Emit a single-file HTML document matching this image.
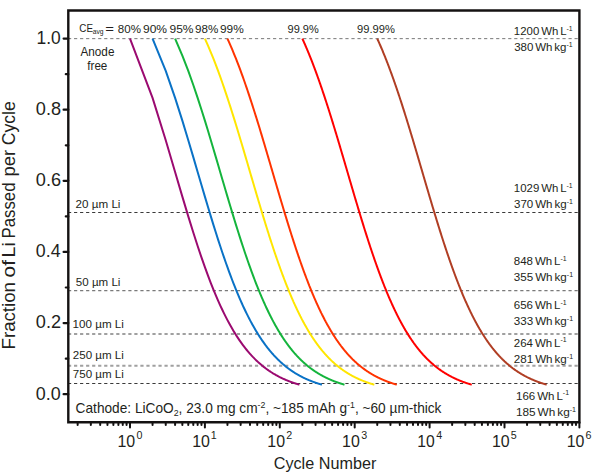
<!DOCTYPE html>
<html><head><meta charset="utf-8"><style>
html,body{margin:0;padding:0;background:#fff;}
body{width:600px;height:476px;overflow:hidden;}
svg{display:block;font-family:"Liberation Sans", sans-serif;}
text{fill:#231f20;}
</style></head><body>
<svg width="600" height="476" viewBox="0 0 600 476">
<rect x="0" y="0" width="600" height="476" fill="#fff"/>
<line x1="68" y1="38.65" x2="578" y2="38.65" stroke="#777" stroke-width="1" stroke-dasharray="3.2 2.83"/>
<line x1="68" y1="212.5" x2="578" y2="212.5" stroke="#3a3a3a" stroke-width="1" stroke-dasharray="3.2 2.83"/>
<line x1="68" y1="290.6" x2="578" y2="290.6" stroke="#7a7a7a" stroke-width="1.3" stroke-dasharray="3.2 2.83"/>
<line x1="68" y1="334.0" x2="578" y2="334.0" stroke="#a0a0a0" stroke-width="2" stroke-dasharray="3.2 2.83"/>
<line x1="68" y1="365.7" x2="578" y2="365.7" stroke="#a0a0a0" stroke-width="2" stroke-dasharray="3.2 2.83"/>
<line x1="68" y1="383.5" x2="578" y2="383.5" stroke="#3a3a3a" stroke-width="1" stroke-dasharray="3.2 2.83"/>
<path d="M130.00,38.60 L152.55,97.87 L165.74,140.20 L175.09,171.95 L182.35,196.64 L188.28,216.40 L193.30,232.56 L197.64,246.03 L201.47,257.43 L204.90,267.20 L208.00,275.67 L210.83,283.07 L213.43,289.61 L215.84,295.42 L218.09,300.62 L220.19,305.30 L222.16,309.53 L224.02,313.38 L225.78,316.90 L227.45,320.12 L229.03,323.08 L230.55,325.82 L231.99,328.35 L233.38,330.70 L234.71,332.89 L235.98,334.93 L237.21,336.85 L238.39,338.64 L239.53,340.32 L240.64,341.91 L241.70,343.40 L242.74,344.81 L243.74,346.15 L244.71,347.41 L245.65,348.61 L246.57,349.75 L247.46,350.83 L248.33,351.87 L249.17,352.85 L249.99,353.79 L250.80,354.69 L251.58,355.55 L252.35,356.37 L253.09,357.16 L253.83,357.91 L254.54,358.64 L255.24,359.34 L255.92,360.01 L256.60,360.65 L257.25,361.27 L257.90,361.87 L258.53,362.45 L259.15,363.01 L259.76,363.54 L260.35,364.06 L260.94,364.57 L261.52,365.05 L262.08,365.52 L262.64,365.98 L263.18,366.42 L263.72,366.85 L264.25,367.26 L264.77,367.66 L265.28,368.05 L265.79,368.43 L266.28,368.80 L266.77,369.16 L267.25,369.51 L267.73,369.84 L268.20,370.17 L268.66,370.49 L269.11,370.81 L269.56,371.11 L270.01,371.41 L270.44,371.69 L270.87,371.97 L271.30,372.25 L271.72,372.52 L272.13,372.78 L272.54,373.03 L272.95,373.28 L273.34,373.53 L273.74,373.76 L274.13,374.00 L274.51,374.22 L274.89,374.44 L275.27,374.66 L275.64,374.87 L276.01,375.08 L276.37,375.29 L276.73,375.48 L277.09,375.68 L277.44,375.87 L277.79,376.06 L278.13,376.24 L278.47,376.42 L278.81,376.60 L279.14,376.77 L279.47,376.94 L279.80,377.10 L280.12,377.27 L280.44,377.43 L280.76,377.58 L281.08,377.74 L281.39,377.89 L281.70,378.04 L282.00,378.18 L282.30,378.32 L282.60,378.47 L282.90,378.60 L283.19,378.74 L283.49,378.87 L283.78,379.00 L284.06,379.13 L284.35,379.26 L284.63,379.38 L284.91,379.51 L285.18,379.63 L285.46,379.74 L285.73,379.86 L286.00,379.98 L286.27,380.09 L286.53,380.20 L286.80,380.31 L287.06,380.42 L287.32,380.52 L287.57,380.63 L287.83,380.73 L288.08,380.83 L288.33,380.93 L288.58,381.03 L288.83,381.13 L289.08,381.22 L289.32,381.32 L289.56,381.41 L289.80,381.50 L290.04,381.59 L290.28,381.68 L290.51,381.77 L290.74,381.85 L290.98,381.94 L291.21,382.02 L291.43,382.10 L291.66,382.19 L291.89,382.27 L292.11,382.35 L292.33,382.43 L292.55,382.50 L292.77,382.58 L292.99,382.65 L293.21,382.73 L293.42,382.80 L293.63,382.88 L293.85,382.95 L294.06,383.02 L294.27,383.09 L294.47,383.16 L294.68,383.22 L294.88,383.29 L295.09,383.36 L295.29,383.42 L295.49,383.49 L295.69,383.55 L295.89,383.62 L296.09,383.68 L296.29,383.74 L296.48,383.80 L296.68,383.86 L296.87,383.92 L297.06,383.98 L297.25,384.04 L297.44,384.10 L297.63,384.15 L297.82,384.21 L298.00,384.27 L298.19,384.32 L298.37,384.38 L298.56,384.43 L298.74,384.48 L298.92,384.54 L299.10,384.59 L299.28,384.64 L299.38,384.67" fill="none" stroke="#9b0a70" stroke-width="2" stroke-linejoin="round"/>
<path d="M152.55,38.60 L165.74,70.93 L175.09,97.87 L182.35,120.66 L188.28,140.20 L193.30,157.13 L197.64,171.95 L201.47,185.02 L204.90,196.64 L208.00,207.04 L210.83,216.40 L213.43,224.87 L215.84,232.56 L218.09,239.59 L220.19,246.03 L222.16,251.96 L224.02,257.43 L225.78,262.50 L227.45,267.20 L229.03,271.58 L230.55,275.67 L231.99,279.49 L233.38,283.07 L234.71,286.44 L235.98,289.61 L237.21,292.60 L238.39,295.42 L239.53,298.09 L240.64,300.62 L241.70,303.02 L242.74,305.30 L243.74,307.47 L244.71,309.53 L245.65,311.50 L246.57,313.38 L247.46,315.18 L248.33,316.90 L249.17,318.54 L249.99,320.12 L250.80,321.63 L251.58,323.08 L252.35,324.47 L253.09,325.82 L253.83,327.11 L254.54,328.35 L255.24,329.55 L255.92,330.70 L256.60,331.81 L257.25,332.89 L257.90,333.93 L258.53,334.93 L259.15,335.90 L259.76,336.85 L260.35,337.76 L260.94,338.64 L261.52,339.49 L262.08,340.32 L262.64,341.13 L263.18,341.91 L263.72,342.66 L264.25,343.40 L264.77,344.12 L265.28,344.81 L265.79,345.49 L266.28,346.15 L266.77,346.79 L267.25,347.41 L267.73,348.02 L268.20,348.61 L268.66,349.19 L269.11,349.75 L269.56,350.30 L270.01,350.83 L270.44,351.36 L270.87,351.87 L271.30,352.36 L271.72,352.85 L272.13,353.33 L272.54,353.79 L272.95,354.24 L273.34,354.69 L273.74,355.12 L274.13,355.55 L274.51,355.96 L274.89,356.37 L275.27,356.77 L275.64,357.16 L276.01,357.54 L276.37,357.91 L276.73,358.28 L277.09,358.64 L277.44,358.99 L277.79,359.34 L278.13,359.68 L278.47,360.01 L278.81,360.33 L279.14,360.65 L279.47,360.97 L279.80,361.27 L280.12,361.58 L280.44,361.87 L280.76,362.16 L281.08,362.45 L281.39,362.73 L281.70,363.01 L282.00,363.28 L282.30,363.54 L282.60,363.81 L282.90,364.06 L283.19,364.32 L283.49,364.57 L283.78,364.81 L284.06,365.05 L284.35,365.29 L284.63,365.52 L284.91,365.75 L285.18,365.98 L285.46,366.20 L285.73,366.42 L286.00,366.63 L286.27,366.85 L286.53,367.05 L286.80,367.26 L287.06,367.46 L287.32,367.66 L287.57,367.86 L287.83,368.05 L288.08,368.24 L288.33,368.43 L288.58,368.62 L288.83,368.80 L289.08,368.98 L289.32,369.16 L289.56,369.33 L289.80,369.51 L290.04,369.68 L290.28,369.84 L290.51,370.01 L290.74,370.17 L290.98,370.33 L291.21,370.49 L291.43,370.65 L291.66,370.81 L291.89,370.96 L292.11,371.11 L292.33,371.26 L292.55,371.41 L292.77,371.55 L292.99,371.69 L293.21,371.84 L293.42,371.97 L293.63,372.11 L293.85,372.25 L294.06,372.38 L294.27,372.52 L294.47,372.65 L294.68,372.78 L294.88,372.91 L295.09,373.03 L295.29,373.16 L295.49,373.28 L295.69,373.40 L295.89,373.53 L296.09,373.65 L296.29,373.76 L296.48,373.88 L296.68,374.00 L296.87,374.11 L297.06,374.22 L297.25,374.33 L297.44,374.44 L297.63,374.55 L297.82,374.66 L298.00,374.77 L298.19,374.87 L298.37,374.98 L298.56,375.08 L298.74,375.18 L298.92,375.29 L299.10,375.39 L299.28,375.48 L299.46,375.58 L299.63,375.68 L299.81,375.78 L299.99,375.87 L300.16,375.96 L300.33,376.06 L300.51,376.15 L300.68,376.24 L300.85,376.33 L301.02,376.42 L301.19,376.51 L301.36,376.60 L301.52,376.68 L301.69,376.77 L301.86,376.85 L302.02,376.94 L302.18,377.02 L302.35,377.10 L302.67,377.27 L302.99,377.43 L303.31,377.58 L303.62,377.74 L303.93,377.89 L304.24,378.04 L304.55,378.18 L304.85,378.32 L305.15,378.47 L305.45,378.60 L305.74,378.74 L306.03,378.87 L306.32,379.00 L306.61,379.13 L306.89,379.26 L307.18,379.38 L307.45,379.51 L307.73,379.63 L308.01,379.74 L308.28,379.86 L308.55,379.98 L308.82,380.09 L309.08,380.20 L309.34,380.31 L309.61,380.42 L309.86,380.52 L310.12,380.63 L310.38,380.73 L310.63,380.83 L310.88,380.93 L311.13,381.03 L311.38,381.13 L311.62,381.22 L311.87,381.32 L312.11,381.41 L312.35,381.50 L312.59,381.59 L312.82,381.68 L313.06,381.77 L313.29,381.85 L313.52,381.94 L313.75,382.02 L313.98,382.10 L314.21,382.19 L314.43,382.27 L314.66,382.35 L314.88,382.43 L315.10,382.50 L315.32,382.58 L315.54,382.65 L315.86,382.77 L316.18,382.88 L316.50,382.98 L316.81,383.09 L317.12,383.19 L317.43,383.29 L317.74,383.39 L318.04,383.49 L318.34,383.59 L318.64,383.68 L318.93,383.77 L319.22,383.86 L319.51,383.95 L319.80,384.04 L320.08,384.13 L320.36,384.21 L320.64,384.29 L320.92,384.38 L321.19,384.46 L321.47,384.54 L321.74,384.62 L321.93,384.67" fill="none" stroke="#0a72c6" stroke-width="2" stroke-linejoin="round"/>
<path d="M175.09,38.60 L182.35,55.53 L188.28,70.93 L193.30,84.98 L197.64,97.87 L201.47,109.72 L204.90,120.66 L208.00,130.79 L210.83,140.20 L213.43,148.96 L215.84,157.13 L218.09,164.78 L220.19,171.95 L222.16,178.68 L224.02,185.02 L225.78,191.00 L227.45,196.64 L229.03,201.98 L230.55,207.04 L231.99,211.84 L233.38,216.40 L234.71,220.74 L235.98,224.87 L237.21,228.80 L238.39,232.56 L239.53,236.16 L240.64,239.59 L241.70,242.88 L242.74,246.03 L243.74,249.06 L244.71,251.96 L245.65,254.75 L246.57,257.43 L247.46,260.01 L248.33,262.50 L249.17,264.89 L249.99,267.20 L250.80,269.43 L251.58,271.58 L252.35,273.66 L253.09,275.67 L253.83,277.61 L254.54,279.49 L255.24,281.31 L255.92,283.08 L256.60,284.78 L257.25,286.44 L257.90,288.05 L258.53,289.61 L259.15,291.13 L259.76,292.60 L260.35,294.03 L260.94,295.42 L261.52,296.78 L262.08,298.09 L262.64,299.37 L263.18,300.62 L263.72,301.84 L264.25,303.02 L264.77,304.17 L265.28,305.30 L265.79,306.40 L266.28,307.47 L266.77,308.51 L267.25,309.53 L267.73,310.53 L268.20,311.50 L268.66,312.45 L269.11,313.38 L269.56,314.29 L270.01,315.18 L270.44,316.05 L270.87,316.90 L271.30,317.73 L271.72,318.54 L272.13,319.34 L272.54,320.12 L272.95,320.88 L273.34,321.63 L273.74,322.36 L274.13,323.08 L274.51,323.78 L274.89,324.47 L275.27,325.15 L275.64,325.82 L276.01,326.47 L276.37,327.11 L276.73,327.73 L277.09,328.35 L277.44,328.95 L277.79,329.55 L278.13,330.13 L278.47,330.70 L278.81,331.26 L279.14,331.81 L279.47,332.36 L279.80,332.89 L280.12,333.41 L280.44,333.93 L280.76,334.44 L281.08,334.93 L281.39,335.42 L281.70,335.90 L282.00,336.38 L282.30,336.85 L282.60,337.30 L282.90,337.76 L283.19,338.20 L283.49,338.64 L283.78,339.07 L284.06,339.49 L284.35,339.91 L284.63,340.32 L284.91,340.73 L285.18,341.13 L285.46,341.52 L285.73,341.91 L286.00,342.29 L286.27,342.66 L286.53,343.03 L286.80,343.40 L287.06,343.76 L287.32,344.12 L287.57,344.47 L287.83,344.81 L288.08,345.15 L288.33,345.49 L288.58,345.82 L288.83,346.15 L289.08,346.47 L289.32,346.79 L289.56,347.10 L289.80,347.41 L290.04,347.72 L290.28,348.02 L290.51,348.32 L290.74,348.61 L290.98,348.90 L291.21,349.19 L291.43,349.47 L291.66,349.75 L291.89,350.03 L292.11,350.30 L292.33,350.57 L292.55,350.83 L292.77,351.10 L292.99,351.36 L293.21,351.61 L293.42,351.87 L293.63,352.12 L293.85,352.36 L294.06,352.61 L294.27,352.85 L294.47,353.09 L294.68,353.33 L294.88,353.56 L295.09,353.79 L295.29,354.02 L295.49,354.24 L295.69,354.47 L295.89,354.69 L296.09,354.91 L296.29,355.12 L296.48,355.34 L296.68,355.55 L296.87,355.76 L297.06,355.96 L297.25,356.17 L297.44,356.37 L297.63,356.57 L297.82,356.77 L298.00,356.96 L298.19,357.16 L298.37,357.35 L298.56,357.54 L298.74,357.73 L298.92,357.91 L299.10,358.10 L299.28,358.28 L299.46,358.46 L299.63,358.64 L299.81,358.82 L299.99,358.99 L300.16,359.17 L300.33,359.34 L300.51,359.51 L300.68,359.68 L300.85,359.84 L301.02,360.01 L301.19,360.17 L301.36,360.33 L301.52,360.49 L301.69,360.65 L301.86,360.81 L302.02,360.97 L302.18,361.12 L302.35,361.27 L302.67,361.58 L302.99,361.87 L303.31,362.16 L303.62,362.45 L303.93,362.73 L304.24,363.01 L304.55,363.28 L304.85,363.54 L305.15,363.81 L305.45,364.06 L305.74,364.32 L306.03,364.57 L306.32,364.81 L306.61,365.05 L306.89,365.29 L307.18,365.52 L307.45,365.75 L307.73,365.98 L308.01,366.20 L308.28,366.42 L308.55,366.63 L308.82,366.85 L309.08,367.05 L309.34,367.26 L309.61,367.46 L309.86,367.66 L310.12,367.86 L310.38,368.05 L310.63,368.24 L310.88,368.43 L311.13,368.62 L311.38,368.80 L311.62,368.98 L311.87,369.16 L312.11,369.33 L312.35,369.51 L312.59,369.68 L312.82,369.84 L313.06,370.01 L313.29,370.17 L313.52,370.33 L313.75,370.49 L313.98,370.65 L314.21,370.81 L314.43,370.96 L314.66,371.11 L314.88,371.26 L315.10,371.41 L315.32,371.55 L315.54,371.69 L315.86,371.91 L316.18,372.11 L316.50,372.32 L316.81,372.52 L317.12,372.71 L317.43,372.91 L317.74,373.10 L318.04,373.28 L318.34,373.47 L318.64,373.65 L318.93,373.82 L319.22,374.00 L319.51,374.17 L319.80,374.33 L320.08,374.50 L320.36,374.66 L320.64,374.82 L320.92,374.98 L321.19,375.13 L321.47,375.29 L321.74,375.43 L322.00,375.58 L322.27,375.73 L322.53,375.87 L322.79,376.01 L323.05,376.15 L323.31,376.29 L323.57,376.42 L323.82,376.55 L324.07,376.68 L324.32,376.81 L324.57,376.94 L324.81,377.06 L325.06,377.19 L325.38,377.35 L325.70,377.51 L326.01,377.66 L326.33,377.81 L326.64,377.96 L326.94,378.11 L327.25,378.25 L327.55,378.40 L327.85,378.53 L328.14,378.67 L328.44,378.81 L328.73,378.94 L329.01,379.07 L329.30,379.20 L329.58,379.32 L329.86,379.44 L330.14,379.57 L330.42,379.69 L330.69,379.80 L330.96,379.92 L331.23,380.03 L331.50,380.14 L331.76,380.25 L332.02,380.36 L332.28,380.47 L332.61,380.60 L332.92,380.73 L333.24,380.86 L333.55,380.98 L333.86,381.10 L334.17,381.22 L334.48,381.34 L334.78,381.45 L335.08,381.57 L335.37,381.68 L335.66,381.79 L335.96,381.90 L336.24,382.00 L336.53,382.10 L336.81,382.21 L337.09,382.31 L337.37,382.41 L337.65,382.50 L337.92,382.60 L338.19,382.69 L338.51,382.80 L338.83,382.91 L339.15,383.02 L339.46,383.12 L339.77,383.22 L340.08,383.33 L340.39,383.42 L340.69,383.52 L340.99,383.62 L341.28,383.71 L341.58,383.80 L341.87,383.89 L342.15,383.98 L342.44,384.07 L342.72,384.15 L343.00,384.24 L343.28,384.32 L343.61,384.42 L343.92,384.51 L344.24,384.60 L344.47,384.67" fill="none" stroke="#14b43c" stroke-width="2" stroke-linejoin="round"/>
<path d="M204.90,38.60 L208.00,45.57 L210.83,52.28 L213.43,58.73 L215.84,64.94 L218.09,70.93 L220.19,76.70 L222.16,82.27 L224.02,87.65 L225.78,92.84 L227.45,97.87 L229.03,102.72 L230.55,107.43 L231.99,111.98 L233.38,116.39 L234.71,120.66 L235.98,124.81 L237.21,128.83 L238.39,132.73 L239.53,136.52 L240.64,140.20 L241.70,143.78 L242.74,147.26 L243.74,150.64 L244.71,153.93 L245.65,157.13 L246.57,160.25 L247.46,163.29 L248.33,166.25 L249.17,169.14 L249.99,171.95 L250.80,174.69 L251.58,177.37 L252.35,179.98 L253.09,182.53 L253.83,185.02 L254.54,187.46 L255.24,189.83 L255.92,192.15 L256.60,194.42 L257.25,196.64 L257.90,198.82 L258.53,200.94 L259.15,203.02 L259.76,205.05 L260.35,207.04 L260.94,208.99 L261.52,210.90 L262.08,212.77 L262.64,214.60 L263.18,216.40 L263.72,218.16 L264.25,219.89 L264.77,221.58 L265.28,223.24 L265.79,224.87 L266.28,226.46 L266.77,228.03 L267.25,229.57 L267.73,231.08 L268.20,232.56 L268.66,234.02 L269.11,235.45 L269.56,236.85 L270.01,238.24 L270.44,239.59 L270.87,240.92 L271.30,242.23 L271.72,243.52 L272.13,244.79 L272.54,246.03 L272.95,247.26 L273.34,248.46 L273.74,249.65 L274.13,250.81 L274.51,251.96 L274.89,253.09 L275.27,254.20 L275.64,255.29 L276.01,256.37 L276.37,257.43 L276.73,258.47 L277.09,259.50 L277.44,260.52 L277.79,261.51 L278.13,262.50 L278.47,263.46 L278.81,264.42 L279.14,265.36 L279.47,266.29 L279.80,267.20 L280.12,268.10 L280.44,268.99 L280.76,269.86 L281.08,270.73 L281.39,271.58 L281.70,272.42 L282.00,273.25 L282.30,274.06 L282.60,274.87 L282.90,275.67 L283.19,276.45 L283.49,277.23 L283.78,277.99 L284.06,278.75 L284.35,279.49 L284.63,280.23 L284.91,280.95 L285.18,281.67 L285.46,282.38 L285.73,283.08 L286.00,283.77 L286.27,284.45 L286.53,285.12 L286.80,285.79 L287.06,286.44 L287.32,287.09 L287.57,287.73 L287.83,288.37 L288.08,288.99 L288.33,289.61 L288.58,290.22 L288.83,290.83 L289.08,291.43 L289.32,292.02 L289.56,292.60 L289.80,293.18 L290.04,293.75 L290.28,294.31 L290.51,294.87 L290.74,295.42 L290.98,295.97 L291.21,296.51 L291.43,297.04 L291.66,297.57 L291.89,298.09 L292.11,298.61 L292.33,299.12 L292.55,299.63 L292.77,300.13 L292.99,300.62 L293.21,301.11 L293.42,301.60 L293.63,302.08 L293.85,302.55 L294.06,303.02 L294.27,303.49 L294.47,303.95 L294.68,304.40 L294.88,304.85 L295.09,305.30 L295.29,305.74 L295.49,306.18 L295.69,306.61 L295.89,307.04 L296.09,307.47 L296.29,307.89 L296.48,308.31 L296.68,308.72 L296.87,309.13 L297.06,309.53 L297.25,309.93 L297.44,310.33 L297.63,310.73 L297.82,311.12 L298.00,311.50 L298.19,311.89 L298.37,312.26 L298.56,312.64 L298.74,313.01 L298.92,313.38 L299.10,313.75 L299.28,314.11 L299.46,314.47 L299.63,314.83 L299.81,315.18 L299.99,315.53 L300.16,315.87 L300.33,316.22 L300.51,316.56 L300.68,316.90 L300.85,317.23 L301.02,317.56 L301.19,317.89 L301.36,318.22 L301.52,318.54 L301.69,318.86 L301.86,319.18 L302.02,319.49 L302.18,319.81 L302.35,320.12 L302.67,320.73 L302.99,321.33 L303.31,321.92 L303.62,322.51 L303.93,323.08 L304.24,323.64 L304.55,324.20 L304.85,324.75 L305.15,325.29 L305.45,325.82 L305.74,326.34 L306.03,326.85 L306.32,327.36 L306.61,327.86 L306.89,328.35 L307.18,328.83 L307.45,329.31 L307.73,329.78 L308.01,330.24 L308.28,330.70 L308.55,331.15 L308.82,331.59 L309.08,332.03 L309.34,332.46 L309.61,332.89 L309.86,333.31 L310.12,333.72 L310.38,334.13 L310.63,334.54 L310.88,334.93 L311.13,335.33 L311.38,335.71 L311.62,336.10 L311.87,336.47 L312.11,336.85 L312.35,337.21 L312.59,337.58 L312.82,337.93 L313.06,338.29 L313.29,338.64 L313.52,338.98 L313.75,339.32 L313.98,339.66 L314.21,339.99 L314.43,340.32 L314.66,340.65 L314.88,340.97 L315.10,341.28 L315.32,341.60 L315.54,341.91 L315.86,342.36 L316.18,342.81 L316.50,343.25 L316.81,343.69 L317.12,344.12 L317.43,344.54 L317.74,344.95 L318.04,345.35 L318.34,345.75 L318.64,346.15 L318.93,346.53 L319.22,346.91 L319.51,347.29 L319.80,347.66 L320.08,348.02 L320.36,348.38 L320.64,348.73 L320.92,349.07 L321.19,349.41 L321.47,349.75 L321.74,350.08 L322.00,350.41 L322.27,350.73 L322.53,351.04 L322.79,351.36 L323.05,351.66 L323.31,351.97 L323.57,352.27 L323.82,352.56 L324.07,352.85 L324.32,353.14 L324.57,353.42 L324.81,353.70 L325.06,353.97 L325.38,354.33 L325.70,354.69 L326.01,355.04 L326.33,355.38 L326.64,355.72 L326.94,356.05 L327.25,356.37 L327.55,356.69 L327.85,357.00 L328.14,357.31 L328.44,357.62 L328.73,357.91 L329.01,358.21 L329.30,358.50 L329.58,358.78 L329.86,359.06 L330.14,359.34 L330.42,359.61 L330.69,359.88 L330.96,360.14 L331.23,360.40 L331.50,360.65 L331.76,360.90 L332.02,361.15 L332.28,361.40 L332.61,361.70 L332.92,361.99 L333.24,362.28 L333.55,362.56 L333.86,362.84 L334.17,363.12 L334.48,363.39 L334.78,363.65 L335.08,363.91 L335.37,364.17 L335.66,364.42 L335.96,364.67 L336.24,364.91 L336.53,365.15 L336.81,365.38 L337.09,365.61 L337.37,365.84 L337.65,366.07 L337.92,366.29 L338.19,366.51 L338.51,366.76 L338.83,367.01 L339.15,367.26 L339.46,367.50 L339.77,367.74 L340.08,367.98 L340.39,368.21 L340.69,368.43 L340.99,368.65 L341.28,368.87 L341.58,369.09 L341.87,369.30 L342.15,369.51 L342.44,369.71 L342.72,369.91 L343.00,370.11 L343.28,370.30 L343.61,370.52 L343.92,370.74 L344.24,370.96 L344.55,371.17 L344.86,371.38 L345.17,371.58 L345.47,371.78 L345.77,371.98 L346.07,372.17 L346.37,372.36 L346.66,372.54 L346.95,372.73 L347.24,372.91 L347.52,373.08 L347.85,373.28 L348.17,373.48 L348.48,373.67 L348.80,373.86 L349.11,374.04 L349.41,374.22 L349.72,374.40 L350.02,374.58 L350.32,374.75 L350.62,374.92 L350.91,375.08 L351.20,375.24 L351.49,375.41 L351.81,375.58 L352.13,375.76 L352.44,375.93 L352.76,376.09 L353.07,376.26 L353.37,376.42 L353.68,376.58 L353.98,376.73 L354.27,376.89 L354.57,377.04 L354.86,377.19 L355.18,377.35 L355.50,377.51 L355.82,377.66 L356.13,377.81 L356.44,377.96 L356.75,378.11 L357.05,378.25 L357.35,378.40 L357.65,378.53 L357.95,378.67 L358.27,378.82 L358.59,378.96 L358.91,379.11 L359.22,379.25 L359.53,379.38 L359.83,379.52 L360.14,379.65 L360.44,379.78 L360.74,379.91 L361.06,380.04 L361.38,380.18 L361.70,380.31 L362.01,380.44 L362.32,380.57 L362.63,380.69 L362.93,380.81 L363.23,380.93 L363.56,381.06 L363.88,381.18 L364.20,381.31 L364.51,381.43 L364.82,381.55 L365.13,381.66 L365.44,381.78 L365.74,381.89 L366.06,382.01 L366.38,382.12 L366.70,382.23 L367.01,382.35 L367.32,382.46 L367.63,382.56 L367.93,382.67 L368.26,382.78 L368.58,382.89 L368.89,383.00 L369.21,383.10 L369.52,383.20 L369.83,383.31 L370.13,383.40 L370.45,383.51 L370.77,383.61 L371.09,383.71 L371.40,383.81 L371.71,383.90 L372.02,384.00 L372.34,384.10 L372.66,384.19 L372.98,384.29 L373.29,384.38 L373.60,384.47 L373.91,384.56 L374.23,384.66 L374.28,384.67" fill="none" stroke="#ffe600" stroke-width="2" stroke-linejoin="round"/>
<path d="M227.45,38.60 L229.03,42.12 L230.55,45.57 L231.99,48.96 L233.38,52.28 L234.71,55.53 L235.98,58.73 L237.21,61.86 L238.39,64.94 L239.53,67.96 L240.64,70.93 L241.70,73.84 L242.74,76.70 L243.74,79.51 L244.71,82.27 L245.65,84.98 L246.57,87.65 L247.46,90.27 L248.33,92.84 L249.17,95.38 L249.99,97.87 L250.80,100.32 L251.58,102.72 L252.35,105.09 L253.09,107.43 L253.83,109.72 L254.54,111.98 L255.24,114.20 L255.92,116.39 L256.60,118.54 L257.25,120.66 L257.90,122.75 L258.53,124.81 L259.15,126.83 L259.76,128.83 L260.35,130.79 L260.94,132.73 L261.52,134.64 L262.08,136.52 L262.64,138.37 L263.18,140.20 L263.72,142.00 L264.25,143.78 L264.77,145.53 L265.28,147.26 L265.79,148.96 L266.28,150.64 L266.77,152.30 L267.25,153.93 L267.73,155.54 L268.20,157.13 L268.66,158.70 L269.11,160.25 L269.56,161.78 L270.01,163.29 L270.44,164.78 L270.87,166.25 L271.30,167.70 L271.72,169.14 L272.13,170.55 L272.54,171.95 L272.95,173.33 L273.34,174.69 L273.74,176.04 L274.13,177.37 L274.51,178.68 L274.89,179.98 L275.27,181.27 L275.64,182.53 L276.01,183.79 L276.37,185.02 L276.73,186.25 L277.09,187.46 L277.44,188.65 L277.79,189.83 L278.13,191.00 L278.47,192.15 L278.81,193.30 L279.14,194.42 L279.47,195.54 L279.80,196.64 L280.12,197.74 L280.44,198.82 L280.76,199.88 L281.08,200.94 L281.39,201.98 L281.70,203.02 L282.00,204.04 L282.30,205.05 L282.60,206.05 L282.90,207.04 L283.19,208.02 L283.49,208.99 L283.78,209.95 L284.06,210.90 L284.35,211.84 L284.63,212.77 L284.91,213.69 L285.18,214.60 L285.46,215.51 L285.73,216.40 L286.00,217.28 L286.27,218.16 L286.53,219.03 L286.80,219.89 L287.06,220.74 L287.32,221.58 L287.57,222.41 L287.83,223.24 L288.08,224.06 L288.33,224.87 L288.58,225.67 L288.83,226.46 L289.08,227.25 L289.32,228.03 L289.56,228.80 L289.80,229.57 L290.04,230.33 L290.28,231.08 L290.51,231.83 L290.74,232.56 L290.98,233.30 L291.21,234.02 L291.43,234.74 L291.66,235.45 L291.89,236.16 L292.11,236.85 L292.33,237.55 L292.55,238.24 L292.77,238.92 L292.99,239.59 L293.21,240.26 L293.42,240.92 L293.63,241.58 L293.85,242.23 L294.06,242.88 L294.27,243.52 L294.47,244.16 L294.68,244.79 L294.88,245.41 L295.09,246.03 L295.29,246.65 L295.49,247.26 L295.69,247.86 L295.89,248.46 L296.09,249.06 L296.29,249.65 L296.48,250.23 L296.68,250.81 L296.87,251.39 L297.06,251.96 L297.25,252.53 L297.44,253.09 L297.63,253.65 L297.82,254.20 L298.00,254.75 L298.19,255.29 L298.37,255.83 L298.56,256.37 L298.74,256.90 L298.92,257.43 L299.10,257.95 L299.28,258.47 L299.46,258.99 L299.63,259.50 L299.81,260.01 L299.99,260.52 L300.16,261.02 L300.33,261.51 L300.51,262.01 L300.68,262.50 L300.85,262.98 L301.02,263.46 L301.19,263.94 L301.36,264.42 L301.52,264.89 L301.69,265.36 L301.86,265.82 L302.02,266.29 L302.18,266.74 L302.35,267.20 L302.67,268.10 L302.99,268.99 L303.31,269.86 L303.62,270.73 L303.93,271.58 L304.24,272.42 L304.55,273.25 L304.85,274.06 L305.15,274.87 L305.45,275.67 L305.74,276.45 L306.03,277.23 L306.32,277.99 L306.61,278.75 L306.89,279.49 L307.18,280.23 L307.45,280.95 L307.73,281.67 L308.01,282.38 L308.28,283.08 L308.55,283.77 L308.82,284.45 L309.08,285.12 L309.34,285.79 L309.61,286.44 L309.86,287.09 L310.12,287.73 L310.38,288.37 L310.63,288.99 L310.88,289.61 L311.13,290.22 L311.38,290.83 L311.62,291.43 L311.87,292.02 L312.11,292.60 L312.35,293.18 L312.59,293.75 L312.82,294.31 L313.06,294.87 L313.29,295.42 L313.52,295.97 L313.75,296.51 L313.98,297.04 L314.21,297.57 L314.43,298.09 L314.66,298.61 L314.88,299.12 L315.10,299.63 L315.32,300.13 L315.54,300.62 L315.86,301.35 L316.18,302.08 L316.50,302.79 L316.81,303.49 L317.12,304.17 L317.43,304.85 L317.74,305.52 L318.04,306.18 L318.34,306.83 L318.64,307.47 L318.93,308.10 L319.22,308.72 L319.51,309.33 L319.80,309.93 L320.08,310.53 L320.36,311.12 L320.64,311.69 L320.92,312.26 L321.19,312.83 L321.47,313.38 L321.74,313.93 L322.00,314.47 L322.27,315.00 L322.53,315.53 L322.79,316.05 L323.05,316.56 L323.31,317.06 L323.57,317.56 L323.82,318.05 L324.07,318.54 L324.32,319.02 L324.57,319.49 L324.81,319.96 L325.06,320.42 L325.38,321.03 L325.70,321.63 L326.01,322.22 L326.33,322.79 L326.64,323.36 L326.94,323.92 L327.25,324.47 L327.55,325.02 L327.85,325.55 L328.14,326.08 L328.44,326.60 L328.73,327.11 L329.01,327.61 L329.30,328.10 L329.58,328.59 L329.86,329.07 L330.14,329.55 L330.42,330.01 L330.69,330.47 L330.96,330.93 L331.23,331.37 L331.50,331.81 L331.76,332.25 L332.02,332.68 L332.28,333.10 L332.61,333.62 L332.92,334.13 L333.24,334.64 L333.55,335.13 L333.86,335.62 L334.17,336.10 L334.48,336.57 L334.78,337.03 L335.08,337.49 L335.37,337.93 L335.66,338.38 L335.96,338.81 L336.24,339.24 L336.53,339.66 L336.81,340.08 L337.09,340.48 L337.37,340.89 L337.65,341.28 L337.92,341.67 L338.19,342.06 L338.51,342.51 L338.83,342.96 L339.15,343.40 L339.46,343.83 L339.77,344.26 L340.08,344.67 L340.39,345.08 L340.69,345.49 L340.99,345.88 L341.28,346.28 L341.58,346.66 L341.87,347.04 L342.15,347.41 L342.44,347.78 L342.72,348.14 L343.00,348.49 L343.28,348.84 L343.61,349.24 L343.92,349.64 L344.24,350.03 L344.55,350.41 L344.86,350.78 L345.17,351.15 L345.47,351.51 L345.77,351.87 L346.07,352.22 L346.37,352.56 L346.66,352.90 L346.95,353.23 L347.24,353.56 L347.52,353.88 L347.85,354.24 L348.17,354.60 L348.48,354.95 L348.80,355.29 L349.11,355.63 L349.41,355.96 L349.72,356.29 L350.02,356.61 L350.32,356.93 L350.62,357.24 L350.91,357.54 L351.20,357.84 L351.49,358.14 L351.81,358.46 L352.13,358.78 L352.44,359.10 L352.76,359.41 L353.07,359.71 L353.37,360.01 L353.68,360.30 L353.98,360.59 L354.27,360.87 L354.57,361.15 L354.86,361.43 L355.18,361.73 L355.50,362.02 L355.82,362.31 L356.13,362.59 L356.44,362.87 L356.75,363.14 L357.05,363.41 L357.35,363.68 L357.65,363.94 L357.95,364.19 L358.27,364.47 L358.59,364.74 L358.91,365.00 L359.22,365.27 L359.53,365.52 L359.83,365.77 L360.14,366.02 L360.44,366.27 L360.74,366.51 L361.06,366.76 L361.38,367.01 L361.70,367.26 L362.01,367.50 L362.32,367.74 L362.63,367.98 L362.93,368.21 L363.23,368.43 L363.56,368.67 L363.88,368.91 L364.20,369.14 L364.51,369.37 L364.82,369.59 L365.13,369.81 L365.44,370.03 L365.74,370.24 L366.06,370.46 L366.38,370.68 L366.70,370.90 L367.01,371.11 L367.32,371.32 L367.63,371.52 L367.93,371.72 L368.26,371.93 L368.58,372.14 L368.89,372.34 L369.21,372.54 L369.52,372.74 L369.83,372.93 L370.13,373.12 L370.45,373.32 L370.77,373.51 L371.09,373.70 L371.40,373.89 L371.71,374.08 L372.02,374.26 L372.34,374.44 L372.66,374.63 L372.98,374.81 L373.29,374.99 L373.60,375.16 L373.91,375.34 L374.23,375.51 L374.55,375.69 L374.87,375.86 L375.18,376.03 L375.49,376.19 L375.80,376.36 L376.12,376.53 L376.44,376.69 L376.76,376.85 L377.07,377.01 L377.38,377.17 L377.70,377.33 L378.02,377.49 L378.33,377.65 L378.65,377.80 L378.96,377.95 L379.28,378.10 L379.60,378.25 L379.92,378.40 L380.23,378.55 L380.54,378.69 L380.86,378.84 L381.18,378.98 L381.50,379.13 L381.81,379.27 L382.13,379.41 L382.45,379.55 L382.77,379.69 L383.08,379.82 L383.39,379.95 L383.72,380.09 L384.03,380.22 L384.35,380.35 L384.66,380.48 L384.98,380.61 L385.30,380.74 L385.62,380.87 L385.93,380.99 L386.25,381.12 L386.57,381.24 L386.89,381.36 L387.20,381.48 L387.52,381.60 L387.84,381.72 L388.16,381.84 L388.47,381.95 L388.79,382.07 L389.11,382.19 L389.42,382.30 L389.75,382.41 L390.07,382.53 L390.38,382.64 L390.70,382.74 L391.02,382.85 L391.33,382.96 L391.65,383.07 L391.97,383.17 L392.29,383.28 L392.61,383.38 L392.93,383.49 L393.25,383.59 L393.57,383.69 L393.89,383.79 L394.21,383.89 L394.53,383.99 L394.85,384.09 L395.17,384.18 L395.49,384.28 L395.81,384.37 L396.13,384.47 L396.45,384.56 L396.77,384.65 L396.83,384.67" fill="none" stroke="#ff3300" stroke-width="2" stroke-linejoin="round"/>
<path d="M302.35,38.60 L302.67,39.31 L302.99,40.02 L303.31,40.72 L303.62,41.42 L303.93,42.12 L304.24,42.82 L304.55,43.51 L304.85,44.20 L305.15,44.89 L305.45,45.57 L305.74,46.25 L306.03,46.93 L306.32,47.61 L306.61,48.29 L306.89,48.96 L307.18,49.63 L307.45,50.29 L307.73,50.96 L308.01,51.62 L308.28,52.28 L308.55,52.93 L308.82,53.59 L309.08,54.24 L309.34,54.89 L309.61,55.53 L309.86,56.18 L310.12,56.82 L310.38,57.46 L310.63,58.09 L310.88,58.73 L311.13,59.36 L311.38,59.99 L311.62,60.62 L311.87,61.24 L312.11,61.86 L312.35,62.48 L312.59,63.10 L312.82,63.72 L313.06,64.33 L313.29,64.94 L313.52,65.55 L313.75,66.16 L313.98,66.76 L314.21,67.36 L314.43,67.96 L314.66,68.56 L314.88,69.15 L315.10,69.75 L315.32,70.34 L315.54,70.93 L315.86,71.81 L316.18,72.68 L316.50,73.55 L316.81,74.42 L317.12,75.28 L317.43,76.13 L317.74,76.98 L318.04,77.83 L318.34,78.67 L318.64,79.51 L318.93,80.34 L319.22,81.17 L319.51,82.00 L319.80,82.82 L320.08,83.63 L320.36,84.44 L320.64,85.25 L320.92,86.05 L321.19,86.85 L321.47,87.65 L321.74,88.44 L322.00,89.23 L322.27,90.01 L322.53,90.79 L322.79,91.56 L323.05,92.33 L323.31,93.10 L323.57,93.86 L323.82,94.62 L324.07,95.38 L324.32,96.13 L324.57,96.88 L324.81,97.62 L325.06,98.36 L325.38,99.34 L325.70,100.32 L326.01,101.28 L326.33,102.25 L326.64,103.20 L326.94,104.15 L327.25,105.09 L327.55,106.03 L327.85,106.96 L328.14,107.89 L328.44,108.81 L328.73,109.72 L329.01,110.63 L329.30,111.53 L329.58,112.43 L329.86,113.32 L330.14,114.20 L330.42,115.08 L330.69,115.95 L330.96,116.82 L331.23,117.68 L331.50,118.54 L331.76,119.39 L332.02,120.24 L332.28,121.08 L332.61,122.13 L332.92,123.16 L333.24,124.19 L333.55,125.21 L333.86,126.23 L334.17,127.23 L334.48,128.23 L334.78,129.22 L335.08,130.21 L335.37,131.18 L335.66,132.15 L335.96,133.11 L336.24,134.07 L336.53,135.02 L336.81,135.96 L337.09,136.89 L337.37,137.82 L337.65,138.74 L337.92,139.65 L338.19,140.56 L338.51,141.64 L338.83,142.71 L339.15,143.78 L339.46,144.83 L339.77,145.88 L340.08,146.91 L340.39,147.94 L340.69,148.96 L340.99,149.97 L341.28,150.97 L341.58,151.97 L341.87,152.95 L342.15,153.93 L342.44,154.90 L342.72,155.86 L343.00,156.82 L343.28,157.76 L343.61,158.86 L343.92,159.94 L344.24,161.02 L344.55,162.09 L344.86,163.14 L345.17,164.19 L345.47,165.22 L345.77,166.25 L346.07,167.27 L346.37,168.28 L346.66,169.28 L346.95,170.27 L347.24,171.25 L347.52,172.23 L347.85,173.33 L348.17,174.42 L348.48,175.50 L348.80,176.57 L349.11,177.63 L349.41,178.68 L349.72,179.72 L350.02,180.75 L350.32,181.77 L350.62,182.79 L350.91,183.79 L351.20,184.78 L351.49,185.76 L351.81,186.85 L352.13,187.94 L352.44,189.01 L352.76,190.07 L353.07,191.12 L353.37,192.15 L353.68,193.18 L353.98,194.20 L354.27,195.21 L354.57,196.20 L354.86,197.19 L355.18,198.28 L355.50,199.35 L355.82,200.41 L356.13,201.46 L356.44,202.50 L356.75,203.53 L357.05,204.55 L357.35,205.55 L357.65,206.55 L357.95,207.53 L358.27,208.61 L358.59,209.66 L358.91,210.71 L359.22,211.75 L359.53,212.77 L359.83,213.78 L360.14,214.79 L360.44,215.78 L360.74,216.75 L361.06,217.81 L361.38,218.85 L361.70,219.89 L362.01,220.91 L362.32,221.91 L362.63,222.91 L362.93,223.89 L363.23,224.87 L363.56,225.91 L363.88,226.94 L364.20,227.95 L364.51,228.96 L364.82,229.95 L365.13,230.93 L365.44,231.90 L365.74,232.86 L366.06,233.88 L366.38,234.88 L366.70,235.87 L367.01,236.85 L367.32,237.82 L367.63,238.78 L367.93,239.73 L368.26,240.73 L368.58,241.71 L368.89,242.69 L369.21,243.65 L369.52,244.60 L369.83,245.54 L370.13,246.46 L370.45,247.44 L370.77,248.40 L371.09,249.35 L371.40,250.29 L371.71,251.22 L372.02,252.13 L372.34,253.09 L372.66,254.03 L372.98,254.97 L373.29,255.89 L373.60,256.80 L373.91,257.69 L374.23,258.63 L374.55,259.55 L374.87,260.47 L375.18,261.36 L375.49,262.25 L375.80,263.13 L376.12,264.04 L376.44,264.94 L376.76,265.82 L377.07,266.70 L377.38,267.56 L377.70,268.46 L378.02,269.34 L378.33,270.21 L378.65,271.07 L378.96,271.92 L379.28,272.79 L379.60,273.66 L379.92,274.51 L380.23,275.35 L380.54,276.18 L380.86,277.03 L381.18,277.88 L381.50,278.71 L381.81,279.53 L382.13,280.37 L382.45,281.20 L382.77,282.02 L383.08,282.83 L383.39,283.63 L383.72,284.45 L384.03,285.25 L384.35,286.05 L384.66,286.83 L384.98,287.64 L385.30,288.43 L385.62,289.21 L385.93,289.98 L386.25,290.77 L386.57,291.54 L386.89,292.31 L387.20,293.06 L387.52,293.83 L387.84,294.59 L388.16,295.34 L388.47,296.08 L388.79,296.83 L389.11,297.57 L389.42,298.30 L389.75,299.04 L390.07,299.78 L390.38,300.50 L390.70,301.21 L391.02,301.93 L391.33,302.64 L391.65,303.35 L391.97,304.06 L392.29,304.76 L392.61,305.46 L392.93,306.16 L393.25,306.85 L393.57,307.53 L393.89,308.22 L394.21,308.90 L394.53,309.57 L394.85,310.25 L395.17,310.92 L395.49,311.58 L395.81,312.25 L396.13,312.90 L396.45,313.55 L396.77,314.20 L397.09,314.84 L397.41,315.48 L397.73,316.11 L398.05,316.74 L398.36,317.36 L398.69,317.99 L399.00,318.60 L399.33,319.23 L399.65,319.84 L399.96,320.44 L400.29,321.05 L400.61,321.64 L400.93,322.25 L401.25,322.84 L401.57,323.42 L401.89,324.01 L402.21,324.58 L402.53,325.16 L402.85,325.74 L403.17,326.30 L403.49,326.86 L403.81,327.42 L404.13,327.98 L404.45,328.53 L404.77,329.08 L405.09,329.63 L405.41,330.17 L405.73,330.71 L406.06,331.25 L406.38,331.78 L406.69,332.30 L407.01,332.83 L407.33,333.34 L407.65,333.86 L407.97,334.36 L408.29,334.87 L408.61,335.37 L408.93,335.88 L409.25,336.37 L409.57,336.86 L409.89,337.36 L410.21,337.85 L410.54,338.33 L410.86,338.81 L411.18,339.29 L411.50,339.76 L411.82,340.23 L412.14,340.69 L412.46,341.16 L412.78,341.62 L413.10,342.07 L413.43,342.53 L413.74,342.98 L414.07,343.42 L414.39,343.87 L414.71,344.31 L415.03,344.74 L415.35,345.17 L415.67,345.60 L416.00,346.03 L416.31,346.45 L416.64,346.87 L416.96,347.29 L417.28,347.70 L417.60,348.11 L417.92,348.52 L418.24,348.92 L418.56,349.32 L418.89,349.72 L419.21,350.11 L419.53,350.50 L419.85,350.89 L420.17,351.27 L420.49,351.65 L420.81,352.03 L421.14,352.41 L421.46,352.78 L421.78,353.15 L422.10,353.52 L422.42,353.88 L422.75,354.24 L423.07,354.61 L423.39,354.96 L423.71,355.31 L424.03,355.66 L424.36,356.01 L424.68,356.35 L425.00,356.69 L425.32,357.03 L425.64,357.37 L425.96,357.70 L426.28,358.03 L426.61,358.36 L426.93,358.68 L427.25,359.01 L427.58,359.33 L427.90,359.64 L428.22,359.96 L428.54,360.27 L428.86,360.57 L429.18,360.88 L429.50,361.18 L429.82,361.48 L430.15,361.78 L430.47,362.08 L430.79,362.37 L431.11,362.66 L431.43,362.95 L431.75,363.24 L432.07,363.52 L432.39,363.80 L432.72,364.08 L433.04,364.36 L433.36,364.63 L433.68,364.90 L434.01,365.17 L434.33,365.44 L434.65,365.71 L434.97,365.97 L435.29,366.23 L435.62,366.49 L435.94,366.74 L436.26,367.00 L436.58,367.25 L436.91,367.50 L437.23,367.75 L437.55,367.99 L437.87,368.24 L438.19,368.48 L438.52,368.72 L438.84,368.95 L439.16,369.19 L439.48,369.42 L439.81,369.65 L440.13,369.88 L440.45,370.11 L440.77,370.33 L441.10,370.55 L441.42,370.78 L441.74,370.99 L442.06,371.21 L442.39,371.43 L442.71,371.64 L443.03,371.85 L443.35,372.06 L443.68,372.27 L444.00,372.48 L444.32,372.68 L444.65,372.88 L444.97,373.08 L445.29,373.28 L445.61,373.48 L445.93,373.67 L446.26,373.87 L446.58,374.06 L446.90,374.25 L447.23,374.44 L447.55,374.62 L447.87,374.81 L448.19,374.99 L448.52,375.17 L448.84,375.35 L449.16,375.53 L449.48,375.71 L449.81,375.88 L450.13,376.06 L450.45,376.23 L450.78,376.40 L451.10,376.57 L451.42,376.73 L451.74,376.90 L452.07,377.06 L452.39,377.23 L452.71,377.39 L453.03,377.55 L453.36,377.70 L453.68,377.86 L454.00,378.02 L454.33,378.17 L454.65,378.32 L454.97,378.47 L455.29,378.62 L455.62,378.77 L455.94,378.92 L456.26,379.07 L456.58,379.21 L456.91,379.35 L457.23,379.50 L457.55,379.64 L457.88,379.78 L458.20,379.91 L458.52,380.05 L458.85,380.19 L459.17,380.32 L459.49,380.45 L459.81,380.58 L460.14,380.71 L460.46,380.84 L460.78,380.97 L461.11,381.10 L461.43,381.22 L461.75,381.35 L462.08,381.47 L462.40,381.59 L462.72,381.72 L463.05,381.84 L463.37,381.95 L463.69,382.07 L464.02,382.19 L464.34,382.30 L464.66,382.42 L464.98,382.53 L465.31,382.64 L465.63,382.76 L465.95,382.87 L466.28,382.97 L466.60,383.08 L466.92,383.19 L467.24,383.30 L467.57,383.40 L467.89,383.51 L468.21,383.61 L468.54,383.71 L468.86,383.81 L469.18,383.91 L469.51,384.01 L469.83,384.11 L470.15,384.21 L470.48,384.30 L470.80,384.40 L471.12,384.50 L471.45,384.59 L471.73,384.67" fill="none" stroke="#ff0000" stroke-width="2" stroke-linejoin="round"/>
<path d="M377.25,38.60 L377.57,39.31 L377.89,40.02 L378.21,40.72 L378.52,41.42 L378.83,42.12 L379.16,42.85 L379.48,43.58 L379.80,44.30 L380.11,45.02 L380.42,45.74 L380.74,46.49 L381.06,47.24 L381.38,47.98 L381.69,48.72 L382.00,49.46 L382.33,50.23 L382.64,50.99 L382.96,51.75 L383.27,52.51 L383.60,53.29 L383.91,54.08 L384.23,54.85 L384.54,55.63 L384.87,56.43 L385.19,57.23 L385.51,58.03 L385.82,58.82 L386.14,59.64 L386.46,60.46 L386.78,61.27 L387.09,62.08 L387.42,62.92 L387.74,63.75 L388.05,64.57 L388.37,65.40 L388.69,66.25 L389.01,67.09 L389.32,67.93 L389.64,68.77 L389.96,69.63 L390.27,70.49 L390.59,71.34 L390.91,72.22 L391.23,73.09 L391.54,73.96 L391.87,74.85 L392.19,75.73 L392.51,76.61 L392.82,77.49 L393.14,78.39 L393.46,79.29 L393.77,80.18 L394.09,81.09 L394.41,82.00 L394.73,82.90 L395.05,83.82 L395.37,84.74 L395.68,85.65 L396.00,86.59 L396.32,87.52 L396.64,88.44 L396.96,89.38 L397.28,90.32 L397.60,91.28 L397.92,92.23 L398.24,93.18 L398.56,94.14 L398.88,95.10 L399.20,96.05 L399.52,97.02 L399.83,97.99 L400.16,98.97 L400.48,99.95 L400.80,100.92 L401.12,101.91 L401.44,102.89 L401.76,103.89 L402.08,104.88 L402.40,105.87 L402.72,106.87 L403.03,107.86 L403.36,108.88 L403.68,109.88 L404.00,110.90 L404.32,111.91 L404.64,112.92 L404.96,113.94 L405.27,114.95 L405.60,115.97 L405.91,116.99 L406.24,118.03 L406.55,119.05 L406.88,120.09 L407.20,121.12 L407.52,122.17 L407.84,123.20 L408.16,124.25 L408.48,125.29 L408.80,126.35 L409.12,127.39 L409.44,128.45 L409.76,129.50 L410.08,130.56 L410.40,131.61 L410.72,132.67 L411.04,133.73 L411.36,134.79 L411.68,135.86 L412.00,136.93 L412.33,138.00 L412.65,139.07 L412.97,140.15 L413.29,141.21 L413.61,142.29 L413.93,143.37 L414.25,144.45 L414.57,145.53 L414.89,146.62 L415.21,147.70 L415.54,148.79 L415.86,149.87 L416.18,150.95 L416.50,152.05 L416.82,153.13 L417.14,154.22 L417.46,155.32 L417.78,156.40 L418.10,157.50 L418.43,158.59 L418.75,159.68 L419.07,160.77 L419.39,161.87 L419.71,162.98 L420.03,164.07 L420.35,165.16 L420.68,166.27 L421.00,167.37 L421.32,168.47 L421.64,169.56 L421.97,170.66 L422.29,171.77 L422.61,172.86 L422.93,173.96 L423.25,175.06 L423.57,176.16 L423.90,177.26 L424.22,178.36 L424.54,179.45 L424.86,180.55 L425.18,181.65 L425.50,182.75 L425.83,183.85 L426.15,184.95 L426.47,186.04 L426.79,187.13 L427.11,188.22 L427.43,189.31 L427.76,190.41 L428.08,191.50 L428.40,192.59 L428.72,193.68 L429.05,194.77 L429.37,195.86 L429.69,196.95 L430.01,198.04 L430.34,199.13 L430.66,200.21 L430.98,201.30 L431.30,202.38 L431.63,203.46 L431.95,204.54 L432.27,205.61 L432.59,206.69 L432.92,207.76 L433.24,208.83 L433.56,209.89 L433.88,210.96 L434.20,212.03 L434.53,213.09 L434.85,214.16 L435.17,215.22 L435.49,216.28 L435.81,217.33 L436.14,218.39 L436.46,219.44 L436.78,220.49 L437.10,221.54 L437.43,222.58 L437.75,223.62 L438.07,224.66 L438.39,225.70 L438.72,226.74 L439.04,227.78 L439.36,228.80 L439.69,229.84 L440.01,230.86 L440.33,231.88 L440.65,232.91 L440.98,233.93 L441.30,234.94 L441.62,235.95 L441.94,236.96 L442.27,237.97 L442.59,238.97 L442.91,239.97 L443.24,240.97 L443.56,241.97 L443.88,242.96 L444.20,243.95 L444.53,244.93 L444.85,245.92 L445.17,246.89 L445.49,247.87 L445.82,248.84 L446.14,249.81 L446.46,250.78 L446.79,251.74 L447.11,252.70 L447.43,253.65 L447.76,254.61 L448.08,255.55 L448.40,256.50 L448.72,257.44 L449.05,258.38 L449.37,259.31 L449.69,260.24 L450.01,261.17 L450.34,262.10 L450.66,263.02 L450.98,263.93 L451.31,264.84 L451.63,265.75 L451.95,266.65 L452.27,267.55 L452.60,268.45 L452.92,269.34 L453.24,270.23 L453.56,271.11 L453.89,271.99 L454.21,272.87 L454.53,273.74 L454.85,274.61 L455.18,275.48 L455.50,276.34 L455.82,277.20 L456.15,278.05 L456.47,278.90 L456.79,279.75 L457.11,280.59 L457.44,281.43 L457.76,282.26 L458.08,283.09 L458.41,283.92 L458.73,284.74 L459.05,285.56 L459.38,286.37 L459.70,287.18 L460.02,287.98 L460.35,288.78 L460.67,289.58 L460.99,290.37 L461.31,291.16 L461.64,291.95 L461.96,292.72 L462.28,293.50 L462.61,294.27 L462.93,295.04 L463.25,295.80 L463.58,296.56 L463.90,297.32 L464.22,298.07 L464.55,298.81 L464.87,299.56 L465.19,300.29 L465.51,301.03 L465.84,301.75 L466.16,302.48 L466.48,303.20 L466.81,303.92 L467.13,304.63 L467.45,305.34 L467.78,306.04 L468.10,306.74 L468.42,307.44 L468.75,308.13 L469.07,308.82 L469.39,309.50 L469.72,310.18 L470.04,310.85 L470.36,311.53 L470.69,312.19 L471.01,312.85 L471.33,313.51 L471.66,314.17 L471.98,314.82 L472.30,315.46 L472.62,316.10 L472.95,316.74 L473.27,317.38 L473.59,318.01 L473.92,318.63 L474.24,319.25 L474.56,319.87 L474.89,320.48 L475.21,321.09 L475.53,321.70 L475.86,322.30 L476.18,322.89 L476.50,323.49 L476.83,324.08 L477.15,324.66 L477.47,325.24 L477.80,325.82 L478.12,326.39 L478.44,326.96 L478.77,327.53 L479.09,328.09 L479.41,328.65 L479.74,329.20 L480.06,329.75 L480.38,330.29 L480.71,330.84 L481.03,331.38 L481.35,331.91 L481.68,332.44 L482.00,332.97 L482.32,333.49 L482.65,334.01 L482.97,334.52 L483.29,335.03 L483.62,335.54 L483.94,336.05 L484.26,336.55 L484.59,337.05 L484.91,337.54 L485.23,338.03 L485.56,338.51 L485.88,339.00 L486.20,339.48 L486.53,339.95 L486.85,340.42 L487.17,340.89 L487.50,341.36 L487.82,341.82 L488.14,342.27 L488.47,342.73 L488.79,343.18 L489.11,343.63 L489.44,344.07 L489.76,344.51 L490.08,344.95 L490.41,345.38 L490.73,345.81 L491.05,346.24 L491.38,346.66 L491.70,347.08 L492.03,347.50 L492.35,347.91 L492.67,348.33 L493.00,348.73 L493.32,349.14 L493.64,349.54 L493.97,349.94 L494.29,350.33 L494.61,350.72 L494.94,351.11 L495.26,351.50 L495.58,351.88 L495.91,352.26 L496.23,352.63 L496.55,353.01 L496.88,353.38 L497.20,353.75 L497.52,354.11 L497.85,354.47 L498.17,354.83 L498.50,355.19 L498.82,355.54 L499.14,355.89 L499.47,356.23 L499.79,356.58 L500.11,356.92 L500.44,357.26 L500.76,357.59 L501.08,357.93 L501.41,358.26 L501.73,358.58 L502.05,358.91 L502.38,359.23 L502.70,359.55 L503.02,359.86 L503.35,360.18 L503.67,360.49 L504.00,360.80 L504.32,361.10 L504.64,361.41 L504.97,361.71 L505.29,362.01 L505.61,362.30 L505.94,362.60 L506.26,362.89 L506.58,363.17 L506.91,363.46 L507.23,363.74 L507.55,364.02 L507.88,364.30 L508.20,364.58 L508.52,364.85 L508.85,365.12 L509.17,365.39 L509.50,365.66 L509.82,365.92 L510.14,366.19 L510.47,366.45 L510.79,366.70 L511.11,366.96 L511.44,367.21 L511.76,367.46 L512.08,367.71 L512.41,367.96 L512.73,368.20 L513.05,368.45 L513.38,368.69 L513.70,368.92 L514.02,369.16 L514.35,369.39 L514.67,369.63 L515.00,369.86 L515.32,370.08 L515.64,370.31 L515.97,370.53 L516.29,370.76 L516.61,370.98 L516.94,371.19 L517.26,371.41 L517.58,371.62 L517.91,371.84 L518.23,372.05 L518.55,372.26 L518.88,372.46 L519.20,372.67 L519.53,372.87 L519.85,373.07 L520.17,373.27 L520.50,373.47 L520.82,373.66 L521.14,373.86 L521.47,374.05 L521.79,374.24 L522.11,374.43 L522.44,374.62 L522.76,374.80 L523.08,374.98 L523.41,375.17 L523.73,375.35 L524.06,375.53 L524.38,375.70 L524.70,375.88 L525.03,376.05 L525.35,376.23 L525.67,376.40 L526.00,376.57 L526.32,376.73 L526.64,376.90 L526.97,377.06 L527.29,377.23 L527.61,377.39 L527.94,377.55 L528.26,377.71 L528.59,377.86 L528.91,378.02 L529.23,378.17 L529.56,378.33 L529.88,378.48 L530.20,378.63 L530.53,378.78 L530.85,378.93 L531.17,379.07 L531.50,379.22 L531.82,379.36 L532.15,379.50 L532.47,379.64 L532.79,379.78 L533.12,379.92 L533.44,380.06 L533.76,380.19 L534.09,380.33 L534.41,380.46 L534.73,380.59 L535.06,380.72 L535.38,380.85 L535.71,380.98 L536.03,381.11 L536.35,381.23 L536.68,381.36 L537.00,381.48 L537.32,381.60 L537.65,381.72 L537.97,381.84 L538.29,381.96 L538.62,382.08 L538.94,382.20 L539.27,382.31 L539.59,382.43 L539.91,382.54 L540.24,382.65 L540.56,382.77 L540.88,382.88 L541.21,382.99 L541.53,383.09 L541.85,383.20 L542.18,383.31 L542.50,383.41 L542.82,383.52 L543.15,383.62 L543.47,383.72 L543.80,383.82 L544.12,383.92 L544.44,384.02 L544.77,384.12 L545.09,384.22 L545.41,384.32 L545.74,384.41 L546.06,384.51 L546.38,384.60 L546.63,384.67" fill="none" stroke="#b03e24" stroke-width="2" stroke-linejoin="round"/>
<path d="M68.3,10.5 H579.4 V422.3 H68.3 Z" fill="none" stroke="#141212" stroke-width="2.4"/>
<line x1="63.6" y1="394.20" x2="68.3" y2="394.20" stroke="#141212" stroke-width="2.2" stroke-linecap="round"/>
<line x1="65.8" y1="358.64" x2="68.3" y2="358.64" stroke="#141212" stroke-width="2.2" stroke-linecap="round"/>
<line x1="63.6" y1="323.08" x2="68.3" y2="323.08" stroke="#141212" stroke-width="2.2" stroke-linecap="round"/>
<line x1="65.8" y1="287.52" x2="68.3" y2="287.52" stroke="#141212" stroke-width="2.2" stroke-linecap="round"/>
<line x1="63.6" y1="251.96" x2="68.3" y2="251.96" stroke="#141212" stroke-width="2.2" stroke-linecap="round"/>
<line x1="65.8" y1="216.40" x2="68.3" y2="216.40" stroke="#141212" stroke-width="2.2" stroke-linecap="round"/>
<line x1="63.6" y1="180.84" x2="68.3" y2="180.84" stroke="#141212" stroke-width="2.2" stroke-linecap="round"/>
<line x1="65.8" y1="145.28" x2="68.3" y2="145.28" stroke="#141212" stroke-width="2.2" stroke-linecap="round"/>
<line x1="63.6" y1="109.72" x2="68.3" y2="109.72" stroke="#141212" stroke-width="2.2" stroke-linecap="round"/>
<line x1="65.8" y1="74.16" x2="68.3" y2="74.16" stroke="#141212" stroke-width="2.2" stroke-linecap="round"/>
<line x1="63.6" y1="38.60" x2="68.3" y2="38.60" stroke="#141212" stroke-width="2.2" stroke-linecap="round"/>
<line x1="77.65" y1="422.3" x2="77.65" y2="425.0" stroke="#141212" stroke-width="2.0" stroke-linecap="round"/>
<line x1="90.84" y1="422.3" x2="90.84" y2="425.0" stroke="#141212" stroke-width="2.0" stroke-linecap="round"/>
<line x1="100.19" y1="422.3" x2="100.19" y2="425.0" stroke="#141212" stroke-width="2.0" stroke-linecap="round"/>
<line x1="107.45" y1="422.3" x2="107.45" y2="425.0" stroke="#141212" stroke-width="2.0" stroke-linecap="round"/>
<line x1="113.38" y1="422.3" x2="113.38" y2="425.0" stroke="#141212" stroke-width="2.0" stroke-linecap="round"/>
<line x1="118.40" y1="422.3" x2="118.40" y2="425.0" stroke="#141212" stroke-width="2.0" stroke-linecap="round"/>
<line x1="122.74" y1="422.3" x2="122.74" y2="425.0" stroke="#141212" stroke-width="2.0" stroke-linecap="round"/>
<line x1="126.57" y1="422.3" x2="126.57" y2="425.0" stroke="#141212" stroke-width="2.0" stroke-linecap="round"/>
<line x1="130.00" y1="422.3" x2="130.00" y2="427.6" stroke="#141212" stroke-width="2.0" stroke-linecap="round"/>
<line x1="152.55" y1="422.3" x2="152.55" y2="425.0" stroke="#141212" stroke-width="2.0" stroke-linecap="round"/>
<line x1="165.74" y1="422.3" x2="165.74" y2="425.0" stroke="#141212" stroke-width="2.0" stroke-linecap="round"/>
<line x1="175.09" y1="422.3" x2="175.09" y2="425.0" stroke="#141212" stroke-width="2.0" stroke-linecap="round"/>
<line x1="182.35" y1="422.3" x2="182.35" y2="425.0" stroke="#141212" stroke-width="2.0" stroke-linecap="round"/>
<line x1="188.28" y1="422.3" x2="188.28" y2="425.0" stroke="#141212" stroke-width="2.0" stroke-linecap="round"/>
<line x1="193.30" y1="422.3" x2="193.30" y2="425.0" stroke="#141212" stroke-width="2.0" stroke-linecap="round"/>
<line x1="197.64" y1="422.3" x2="197.64" y2="425.0" stroke="#141212" stroke-width="2.0" stroke-linecap="round"/>
<line x1="201.47" y1="422.3" x2="201.47" y2="425.0" stroke="#141212" stroke-width="2.0" stroke-linecap="round"/>
<line x1="204.90" y1="422.3" x2="204.90" y2="427.6" stroke="#141212" stroke-width="2.0" stroke-linecap="round"/>
<line x1="227.45" y1="422.3" x2="227.45" y2="425.0" stroke="#141212" stroke-width="2.0" stroke-linecap="round"/>
<line x1="240.64" y1="422.3" x2="240.64" y2="425.0" stroke="#141212" stroke-width="2.0" stroke-linecap="round"/>
<line x1="249.99" y1="422.3" x2="249.99" y2="425.0" stroke="#141212" stroke-width="2.0" stroke-linecap="round"/>
<line x1="257.25" y1="422.3" x2="257.25" y2="425.0" stroke="#141212" stroke-width="2.0" stroke-linecap="round"/>
<line x1="263.18" y1="422.3" x2="263.18" y2="425.0" stroke="#141212" stroke-width="2.0" stroke-linecap="round"/>
<line x1="268.20" y1="422.3" x2="268.20" y2="425.0" stroke="#141212" stroke-width="2.0" stroke-linecap="round"/>
<line x1="272.54" y1="422.3" x2="272.54" y2="425.0" stroke="#141212" stroke-width="2.0" stroke-linecap="round"/>
<line x1="276.37" y1="422.3" x2="276.37" y2="425.0" stroke="#141212" stroke-width="2.0" stroke-linecap="round"/>
<line x1="279.80" y1="422.3" x2="279.80" y2="427.6" stroke="#141212" stroke-width="2.0" stroke-linecap="round"/>
<line x1="302.35" y1="422.3" x2="302.35" y2="425.0" stroke="#141212" stroke-width="2.0" stroke-linecap="round"/>
<line x1="315.54" y1="422.3" x2="315.54" y2="425.0" stroke="#141212" stroke-width="2.0" stroke-linecap="round"/>
<line x1="324.89" y1="422.3" x2="324.89" y2="425.0" stroke="#141212" stroke-width="2.0" stroke-linecap="round"/>
<line x1="332.15" y1="422.3" x2="332.15" y2="425.0" stroke="#141212" stroke-width="2.0" stroke-linecap="round"/>
<line x1="338.08" y1="422.3" x2="338.08" y2="425.0" stroke="#141212" stroke-width="2.0" stroke-linecap="round"/>
<line x1="343.10" y1="422.3" x2="343.10" y2="425.0" stroke="#141212" stroke-width="2.0" stroke-linecap="round"/>
<line x1="347.44" y1="422.3" x2="347.44" y2="425.0" stroke="#141212" stroke-width="2.0" stroke-linecap="round"/>
<line x1="351.27" y1="422.3" x2="351.27" y2="425.0" stroke="#141212" stroke-width="2.0" stroke-linecap="round"/>
<line x1="354.70" y1="422.3" x2="354.70" y2="427.6" stroke="#141212" stroke-width="2.0" stroke-linecap="round"/>
<line x1="377.25" y1="422.3" x2="377.25" y2="425.0" stroke="#141212" stroke-width="2.0" stroke-linecap="round"/>
<line x1="390.44" y1="422.3" x2="390.44" y2="425.0" stroke="#141212" stroke-width="2.0" stroke-linecap="round"/>
<line x1="399.79" y1="422.3" x2="399.79" y2="425.0" stroke="#141212" stroke-width="2.0" stroke-linecap="round"/>
<line x1="407.05" y1="422.3" x2="407.05" y2="425.0" stroke="#141212" stroke-width="2.0" stroke-linecap="round"/>
<line x1="412.98" y1="422.3" x2="412.98" y2="425.0" stroke="#141212" stroke-width="2.0" stroke-linecap="round"/>
<line x1="418.00" y1="422.3" x2="418.00" y2="425.0" stroke="#141212" stroke-width="2.0" stroke-linecap="round"/>
<line x1="422.34" y1="422.3" x2="422.34" y2="425.0" stroke="#141212" stroke-width="2.0" stroke-linecap="round"/>
<line x1="426.17" y1="422.3" x2="426.17" y2="425.0" stroke="#141212" stroke-width="2.0" stroke-linecap="round"/>
<line x1="429.60" y1="422.3" x2="429.60" y2="427.6" stroke="#141212" stroke-width="2.0" stroke-linecap="round"/>
<line x1="452.15" y1="422.3" x2="452.15" y2="425.0" stroke="#141212" stroke-width="2.0" stroke-linecap="round"/>
<line x1="465.34" y1="422.3" x2="465.34" y2="425.0" stroke="#141212" stroke-width="2.0" stroke-linecap="round"/>
<line x1="474.69" y1="422.3" x2="474.69" y2="425.0" stroke="#141212" stroke-width="2.0" stroke-linecap="round"/>
<line x1="481.95" y1="422.3" x2="481.95" y2="425.0" stroke="#141212" stroke-width="2.0" stroke-linecap="round"/>
<line x1="487.88" y1="422.3" x2="487.88" y2="425.0" stroke="#141212" stroke-width="2.0" stroke-linecap="round"/>
<line x1="492.90" y1="422.3" x2="492.90" y2="425.0" stroke="#141212" stroke-width="2.0" stroke-linecap="round"/>
<line x1="497.24" y1="422.3" x2="497.24" y2="425.0" stroke="#141212" stroke-width="2.0" stroke-linecap="round"/>
<line x1="501.07" y1="422.3" x2="501.07" y2="425.0" stroke="#141212" stroke-width="2.0" stroke-linecap="round"/>
<line x1="504.50" y1="422.3" x2="504.50" y2="427.6" stroke="#141212" stroke-width="2.0" stroke-linecap="round"/>
<line x1="527.05" y1="422.3" x2="527.05" y2="425.0" stroke="#141212" stroke-width="2.0" stroke-linecap="round"/>
<line x1="540.24" y1="422.3" x2="540.24" y2="425.0" stroke="#141212" stroke-width="2.0" stroke-linecap="round"/>
<line x1="549.59" y1="422.3" x2="549.59" y2="425.0" stroke="#141212" stroke-width="2.0" stroke-linecap="round"/>
<line x1="556.85" y1="422.3" x2="556.85" y2="425.0" stroke="#141212" stroke-width="2.0" stroke-linecap="round"/>
<line x1="562.78" y1="422.3" x2="562.78" y2="425.0" stroke="#141212" stroke-width="2.0" stroke-linecap="round"/>
<line x1="567.80" y1="422.3" x2="567.80" y2="425.0" stroke="#141212" stroke-width="2.0" stroke-linecap="round"/>
<line x1="572.14" y1="422.3" x2="572.14" y2="425.0" stroke="#141212" stroke-width="2.0" stroke-linecap="round"/>
<line x1="575.97" y1="422.3" x2="575.97" y2="425.0" stroke="#141212" stroke-width="2.0" stroke-linecap="round"/>
<line x1="579.40" y1="422.3" x2="579.40" y2="427.6" stroke="#141212" stroke-width="2.0" stroke-linecap="round"/>
<text id="yt0" transform="translate(35.81,399.60) scale(0.9875,1)" font-size="18.2">0.0</text>
<text id="yt1" transform="translate(35.80,328.48) scale(0.9979,1)" font-size="18.2">0.2</text>
<text id="yt2" transform="translate(35.81,257.36) scale(0.9773,1)" font-size="18.2">0.4</text>
<text id="yt3" transform="translate(35.80,186.24) scale(0.9979,1)" font-size="18.2">0.6</text>
<text id="yt4" transform="translate(35.80,115.12) scale(0.9979,1)" font-size="18.2">0.8</text>
<text id="yt5" transform="translate(36.51,44.00) scale(0.9570,1)" font-size="18.2">1.0</text>
<text id="xt0" transform="translate(117.44,447.00) scale(0.9723,1)" font-size="16.4">10</text>
<text id="xs0" transform="translate(136.55,438.80) scale(1.0000,1)" font-size="10.7">0</text>
<text id="xt1" transform="translate(192.24,447.00) scale(0.9723,1)" font-size="16.4">10</text>
<text id="xs1" transform="translate(210.85,438.80) scale(1.0000,1)" font-size="10.7">1</text>
<text id="xt2" transform="translate(267.28,447.00) scale(0.9723,1)" font-size="16.4">10</text>
<text id="xs2" transform="translate(286.15,438.80) scale(1.0000,1)" font-size="10.7">2</text>
<text id="xt3" transform="translate(342.09,447.00) scale(0.9723,1)" font-size="16.4">10</text>
<text id="xs3" transform="translate(361.20,438.80) scale(1.0000,1)" font-size="10.7">3</text>
<text id="xt4" transform="translate(417.15,447.00) scale(0.9576,1)" font-size="16.4">10</text>
<text id="xs4" transform="translate(436.25,438.80) scale(1.0000,1)" font-size="10.7">4</text>
<text id="xt5" transform="translate(491.94,447.00) scale(0.9723,1)" font-size="16.4">10</text>
<text id="xs5" transform="translate(510.80,438.80) scale(1.0000,1)" font-size="10.7">5</text>
<text id="xt6" transform="translate(566.74,447.00) scale(0.9723,1)" font-size="16.4">10</text>
<text id="xs6" transform="translate(585.60,438.80) scale(1.0000,1)" font-size="10.7">6</text>
<text id="xlab" transform="translate(273.72,469.30) scale(0.9760,1)" font-size="16.6">Cycle Number</text>
<text id="ce" transform="translate(79.33,32.40) scale(0.8500,1)" font-size="11.6">CE</text>
<text id="avg" transform="translate(92.78,33.90) scale(0.8783,1)" font-size="7.6">avg</text>
<text id="eq" transform="translate(105.36,33.20) scale(1.2870,1)" font-size="11.6">=</text>
<text id="ce80%" transform="translate(117.85,32.80) scale(0.9978,1)" font-size="11.6">80%</text>
<text id="ce90%" transform="translate(142.98,32.80) scale(1.0382,1)" font-size="11.6">90%</text>
<text id="ce95%" transform="translate(169.48,32.80) scale(1.0337,1)" font-size="11.6">95%</text>
<text id="ce98%" transform="translate(195.00,32.80) scale(1.0022,1)" font-size="11.6">98%</text>
<text id="ce99%" transform="translate(219.93,32.80) scale(1.0247,1)" font-size="11.6">99%</text>
<text id="ce99.9%" transform="translate(287.53,32.80) scale(0.9469,1)" font-size="11.6">99.9%</text>
<text id="ce99.99%" transform="translate(356.97,32.80) scale(0.9621,1)" font-size="11.6">99.99%</text>
<text id="anode" transform="translate(80.50,55.50) scale(0.9781,1)" font-size="12.0">Anode</text>
<text id="free" transform="translate(87.30,70.20) scale(0.9700,1)" font-size="12.0">free</text>
<text id="li20" transform="translate(75.60,208.10) scale(1.0035,1)" font-size="11.6">20 µm Li</text>
<text id="li50" transform="translate(75.85,286.40) scale(0.9977,1)" font-size="11.6">50 µm Li</text>
<text id="li100" transform="translate(72.55,328.10) scale(1.0040,1)" font-size="11.6">100 µm Li</text>
<text id="li250" transform="translate(72.80,358.60) scale(0.9990,1)" font-size="11.6">250 µm Li</text>
<text id="li750" transform="translate(72.80,378.40) scale(0.9990,1)" font-size="11.6">750 µm Li</text>
<text id="en1200" transform="translate(513.86,34.70) scale(0.9846,1)" font-size="11.6"><tspan word-spacing="-1.3">1200 Wh L</tspan><tspan font-size="7" dy="-4.1">-1</tspan></text>
<text id="en380" transform="translate(514.16,50.60) scale(0.9906,1)" font-size="11.6"><tspan word-spacing="-1.3">380 Wh kg</tspan><tspan font-size="7" dy="-4.1">-1</tspan></text>
<text id="en1029" transform="translate(513.86,191.90) scale(0.9846,1)" font-size="11.6"><tspan word-spacing="-1.3">1029 Wh L</tspan><tspan font-size="7" dy="-4.1">-1</tspan></text>
<text id="en370" transform="translate(513.95,207.80) scale(0.9966,1)" font-size="11.6"><tspan word-spacing="-1.3">370 Wh kg</tspan><tspan font-size="7" dy="-4.1">-1</tspan></text>
<text id="en848" transform="translate(513.80,265.00) scale(0.9933,1)" font-size="11.6"><tspan word-spacing="-1.3">848 Wh L</tspan><tspan font-size="7" dy="-4.1">-1</tspan></text>
<text id="en355" transform="translate(513.80,280.80) scale(1.0034,1)" font-size="11.6"><tspan word-spacing="-1.3">355 Wh kg</tspan><tspan font-size="7" dy="-4.1">-1</tspan></text>
<text id="en656" transform="translate(513.81,309.00) scale(0.9914,1)" font-size="11.6"><tspan word-spacing="-1.3">656 Wh L</tspan><tspan font-size="7" dy="-4.1">-1</tspan></text>
<text id="en333" transform="translate(513.80,325.30) scale(1.0034,1)" font-size="11.6"><tspan word-spacing="-1.3">333 Wh kg</tspan><tspan font-size="7" dy="-4.1">-1</tspan></text>
<text id="en264" transform="translate(513.81,346.50) scale(0.9914,1)" font-size="11.6"><tspan word-spacing="-1.3">264 Wh L</tspan><tspan font-size="7" dy="-4.1">-1</tspan></text>
<text id="en281" transform="translate(513.80,363.30) scale(1.0034,1)" font-size="11.6"><tspan word-spacing="-1.3">281 Wh kg</tspan><tspan font-size="7" dy="-4.1">-1</tspan></text>
<text id="en166" transform="translate(516.00,399.50) scale(0.9962,1)" font-size="11.6"><tspan word-spacing="-1.3">166 Wh L</tspan><tspan font-size="7" dy="-4.1">-1</tspan></text>
<text id="en185" transform="translate(515.98,416.00) scale(1.0182,1)" font-size="11.6"><tspan word-spacing="-1.3">185 Wh kg</tspan><tspan font-size="7" dy="-4.1">-1</tspan></text>
<text id="cath" transform="translate(75.62,412.60) scale(0.9777,1)" font-size="14.0">Cathode: LiCoO<tspan font-size="9" dy="3">2</tspan><tspan dy="-3">, 23.0 mg cm</tspan><tspan font-size="9" dy="-5">-2</tspan><tspan dy="5">, ~185 mAh g</tspan><tspan font-size="9" dy="-5">-1</tspan><tspan dy="5">, ~60 µm-thick</tspan></text>
<text id="ylFraction" transform="translate(14.50,349.48) rotate(-90) scale(0.9840,1)" font-size="19">Fraction</text>
<text id="ylof" transform="translate(14.50,277.38) rotate(-90) scale(1.0933,1)" font-size="19">of</text>
<text id="ylLi" transform="translate(14.50,257.40) rotate(-90) scale(1.0333,1)" font-size="19">Li</text>
<text id="ylPassed" transform="translate(14.50,238.51) rotate(-90) scale(0.8843,1)" font-size="19">Passed</text>
<text id="ylper" transform="translate(14.50,176.57) rotate(-90) scale(0.9748,1)" font-size="19">per</text>
<text id="ylCycle" transform="translate(14.50,145.28) rotate(-90) scale(0.9297,1)" font-size="19">Cycle</text>
</svg>
</body></html>
